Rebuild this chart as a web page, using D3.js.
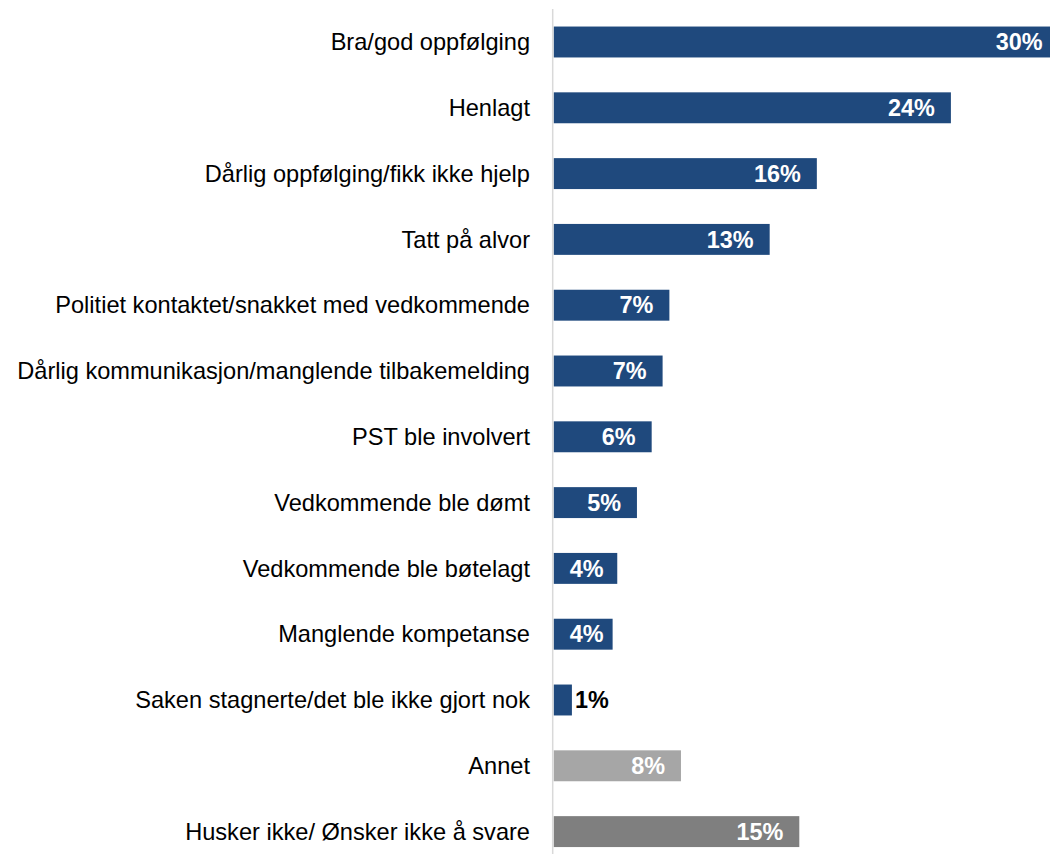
<!DOCTYPE html>
<html>
<head>
<meta charset="utf-8">
<script src="https://cdn.jsdelivr.net/npm/d3@7"></script>
<style>
  html, body { margin: 0; padding: 0; background: #ffffff; }
  svg { display: block; font-family: Arial, "Liberation Sans", sans-serif; }
</style>
</head>
<body>
<svg id="chart" width="1050" height="854"></svg>
<script>
const categories = [
  "Bra/god oppfølging",
  "Henlagt",
  "Dårlig oppfølging/fikk ikke hjelp",
  "Tatt på alvor",
  "Politiet kontaktet/snakket med vedkommende",
  "Dårlig kommunikasjon/manglende tilbakemelding",
  "PST ble involvert",
  "Vedkommende ble dømt",
  "Vedkommende ble bøtelagt",
  "Manglende kompetanse",
  "Saken stagnerte/det ble ikke gjort nok",
  "Annet",
  "Husker ikke/ Ønsker ikke å svare"
];
const values = [30.5, 24.0, 15.9, 13.05, 6.99, 6.58, 5.92, 5.03, 3.84, 3.56, 1.1, 7.69, 14.84];
const valueLabels = ["30%", "24%", "16%", "13%", "7%", "7%", "6%", "5%", "4%", "4%", "1%", "8%", "15%"];
const colorGroups = ["main","main","main","main","main","main","main","main","main","main","main","other","dontknow"];
const colors = { main: "#1f497d", other: "#a6a6a6", dontknow: "#7f7f7f" };

const svg = d3.select("#chart");
const x0 = 553.7;
const x = d3.scaleLinear().domain([0, 30]).range([x0, 1050.2]);
const y = d3.scaleBand().domain(categories).range([9.1, 864.5]).paddingInner(0.53).paddingOuter(0.265);

// bars
svg.selectAll("rect.bar").data(categories).join("rect")
  .attr("class", "bar")
  .attr("x", x(0))
  .attr("y", d => y(d))
  .attr("width", (d, i) => x(values[i]) - x(0))
  .attr("height", y.bandwidth())
  .attr("fill", (d, i) => colors[colorGroups[i]]);

// axis line
svg.append("line")
  .attr("x1", 552.7).attr("x2", 552.7)
  .attr("y1", 9).attr("y2", 854)
  .attr("stroke", "#d9d9d9").attr("stroke-width", 1.5);

// category labels
svg.selectAll("text.cat").data(categories).join("text")
  .attr("class", "cat")
  .attr("x", 530)
  .attr("y", d => y(d) + y.bandwidth() / 2)
  .attr("dy", "0.35em")
  .attr("text-anchor", "end")
  .attr("font-size", "23.6px")
  .attr("fill", "#000")
  .text(d => d);

// value labels
const vl = svg.selectAll("text.val").data(categories).join("text")
  .attr("class", "val")
  .attr("y", d => y(d) + y.bandwidth() / 2)
  .attr("dy", "0.35em")
  .attr("font-size", "23.4px")
  .attr("font-weight", "bold")
  .text((d, i) => valueLabels[i]);

vl.each(function(d, i) {
  const t = d3.select(this);
  const w = this.getComputedTextLength();
  const end = x(values[i]);
  const barW = end - x(0);
  if (barW < w + 20) {
    t.attr("x", end + 3).attr("text-anchor", "start").attr("fill", "#000");
  } else {
    const right = Math.max(end - 16, x(0) + 16 + w);
    t.attr("x", right).attr("text-anchor", "end").attr("fill", "#fff");
  }
});
</script>
</body>
</html>
